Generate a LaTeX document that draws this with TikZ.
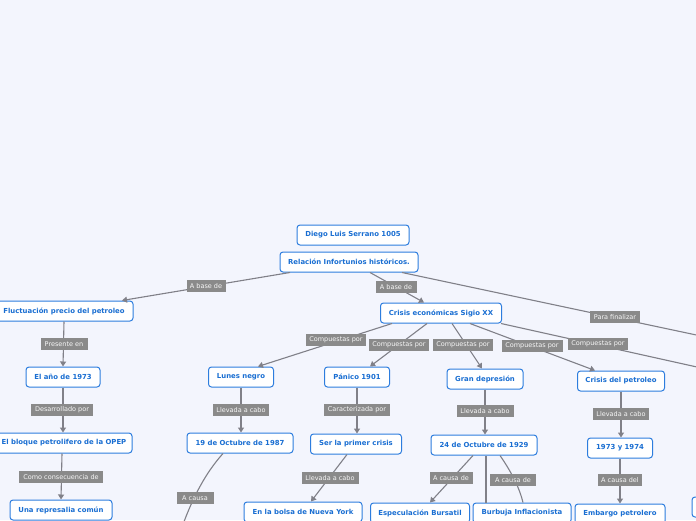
\documentclass[tikz,border=0pt]{standalone}
\usepackage{fontspec}
\setmainfont{DejaVu Sans}
\usetikzlibrary{arrows.meta}
\definecolor{bgc}{RGB}{243,245,253}
\definecolor{nodeblue}{RGB}{45,125,222}
\definecolor{textblue}{RGB}{25,110,210}
\definecolor{lblgray}{RGB}{138,138,138}
\definecolor{linegray}{RGB}{128,128,136}
\tikzset{
  topic/.style={draw=nodeblue, line width=1pt, fill=white, rounded corners=3pt,
    minimum height=20pt, inner xsep=2pt, inner ysep=0pt,
    font=\fontsize{6.9}{7}\selectfont\bfseries, text=textblue},
  lbl/.style={fill=lblgray, text=white!94!gray, inner xsep=2pt, inner ysep=0pt,
    minimum height=11.5pt, font=\fontsize{6.5}{7}\selectfont},
  conn/.style={draw=linegray, line width=1.1pt},
  arr/.style={conn, -{Triangle[width=6pt,length=5pt]}},
}
\begin{document}
\begin{tikzpicture}[x=1pt,y=-1pt]
\fill[bgc] (0,0) rectangle (696,520);
\useasboundingbox (0,0) rectangle (696,520);
\clip (0,0) rectangle (696,520);
% nodes
\node[topic, minimum width=112pt] (diego) at (353,235) {Diego Luis Serrano 1005};
\node[topic, minimum width=138pt] (rel) at (349,262) {Relación Infortunios históricos.};
\node[topic, minimum width=138pt] (fl) at (64,311) {Fluctuación precio del petroleo};
\node[topic, minimum width=121pt] (ce) at (441,313) {Crisis económicas Sigio XX};
\node[topic, minimum width=74pt] (ano) at (63,377) {El año de 1973};
\node[topic, minimum width=136pt] (opep) at (64,443) {El bloque petrolifero de la OPEP};
\node[topic, minimum width=102pt] (rep) at (61,510) {Una represalia común};
\node[topic, minimum width=65pt] (lunes) at (241,377) {Lunes negro};
\node[topic, minimum width=65pt] (panico) at (357,377) {Pánico 1901};
\node[topic, minimum width=106pt] (oct87) at (240,443) {19 de Octubre de 1987};
\node[topic, minimum width=91pt] (sp) at (356,444) {Ser la primer crisis};
\node[topic, minimum width=118pt] (bolsa) at (303,512) {En la bolsa de Nueva York};
\node[topic, minimum width=76pt] (gran) at (485,379) {Gran depresión};
\node[topic, minimum width=106pt] (oct29) at (484,445) {24 de Octubre de 1929};
\node[topic, minimum width=99pt] (esp) at (420,513) {Especulación Bursatil};
\node[topic, minimum width=98pt] (burb) at (522,513) {Burbuja Inflacionista};
\node[topic, minimum width=87pt] (cpet) at (621,381) {Crisis del petroleo};
\node[topic, minimum width=65pt] (y7374) at (620,448) {1973 y 1974};
\node[topic, minimum width=90pt] (emb) at (620,514) {Embargo petrolero};
\node[topic, minimum width=80pt] (offbr) at (732,507) {};
\coordinate (offfin) at (800,357);
\coordinate (offce) at (760,381);
\coordinate (off87) at (181,530);
% connectors
\draw[arr] ([xshift=-59pt]rel.south) -- ([xshift=58pt]fl.north);
\draw[arr] ([xshift=21pt]rel.south) -- ([xshift=-17pt]ce.north);
\draw[conn] ([xshift=53pt]rel.south) -- (offfin);
\draw[arr] ([xshift=-49pt]ce.south) -- ([xshift=17pt]lunes.north);
\draw[arr] ([xshift=-14pt]ce.south) -- ([xshift=13pt]panico.north);
\draw[arr] ([xshift=11pt]ce.south) -- ([xshift=-3pt]gran.north);
\draw[arr] ([xshift=29pt]ce.south) -- ([xshift=-26pt]cpet.north);
\draw[conn] ([xshift=-1pt]ce.south east) -- (offce);
\draw[arr] (fl.south) -- (ano.north);
\draw[arr] (ano.south) -- (opep.north -| ano.south);
\draw[arr] ([xshift=-2pt]opep.south) -- ([xshift=0pt]rep.north);
\draw[arr] (lunes.south) -- (oct87.north -| lunes.south);
\draw[arr] (panico.south) -- (sp.north -| panico.south);
\draw[arr] ([xshift=-9pt]sp.south) -- ([xshift=8pt]bolsa.north);
\draw[conn] ([xshift=-17pt]oct87.south) .. controls (210,468) and (195,490) .. (off87);
\draw[arr] (gran.south) -- (oct29.north -| gran.south);
\draw[arr] ([xshift=-11pt]oct29.south) -- ([xshift=10pt]esp.north);
\draw[conn] ([xshift=2pt]oct29.south) -- ([xshift=-36pt]burb.north);
\draw[conn] ([xshift=16pt]oct29.south) .. controls (510,470) and (519,486) .. ([xshift=1pt]burb.north);
\draw[arr] (cpet.south) -- (y7374.north -| cpet.south);
\draw[arr] (y7374.south) -- (emb.north);
% labels
\node[lbl, minimum width=39pt] (l1) at (206,286) {A base de};
\node[lbl, minimum width=41pt] (l2) at (396,287) {A base de};
\node[lbl, minimum width=50pt] (l3) at (615,317) {Para finalizar};
\node[lbl, minimum width=60pt] (l4) at (336,340) {Compuestas por};
\node[lbl, minimum width=60pt] (l5) at (399,345) {Compuestas por};
\node[lbl, minimum width=60pt] (l6) at (463,345) {Compuestas por};
\node[lbl, minimum width=61pt] (l7) at (532,346) {Compuestas por};
\node[lbl, minimum width=60pt] (l8) at (598,344) {Compuestas por};
\node[lbl, minimum width=47pt] (l9) at (64,344) {Presente en};
\node[lbl, minimum width=62pt] (l10) at (62,410) {Desarrollado por};
\node[lbl, minimum width=84pt] (l11) at (61,477) {Como consecuencia de};
\node[lbl, minimum width=56pt] (l12) at (241,410) {Llevada a cabo};
\node[lbl, minimum width=66pt] (l13) at (357,410) {Caracterizada por};
\node[lbl, minimum width=57pt] (l14) at (330,478) {Llevada a cabo};
\node[lbl, minimum width=37pt] (l15) at (195,498) {A causa};
\node[lbl, minimum width=57pt] (l16) at (485,411) {Llevada a cabo};
\node[lbl, minimum width=43pt] (l17) at (451,478) {A causa de};
\node[lbl, minimum width=46pt] (l18) at (513,480) {A causa de};
\node[lbl, minimum width=56pt] (l19) at (621,414) {Llevada a cabo};
\node[lbl, minimum width=44pt] (l20) at (620,480) {A causa del};
\end{tikzpicture}
\end{document}
